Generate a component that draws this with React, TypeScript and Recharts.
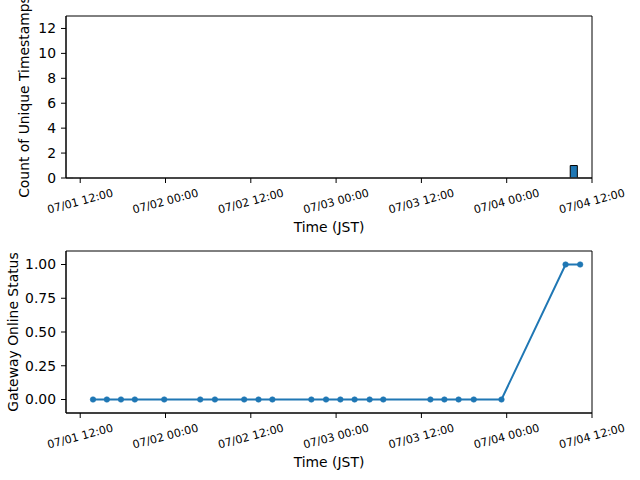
import React from 'react';
import { ComposedChart, LineChart, Bar, Line, XAxis, YAxis, ReferenceLine, ReferenceArea, Label } from 'recharts';

// ---------- data ----------
const tickLabels = ['07/01 12:00', '07/02 00:00', '07/02 12:00', '07/03 00:00', '07/03 12:00', '07/04 00:00', '07/04 12:00'];
const xRange = ['07/01 10:00', '07/04 12:00'];

const statusTimes = [
  '07/01 13:48', '07/01 15:45', '07/01 17:44', '07/01 19:41', '07/01 23:49',
  '07/02 04:53', '07/02 06:57', '07/02 11:04', '07/02 13:05', '07/02 15:02',
  '07/02 20:31', '07/02 22:35', '07/03 00:36', '07/03 02:36', '07/03 04:43',
  '07/03 06:38', '07/03 13:16', '07/03 15:14', '07/03 17:14', '07/03 19:22',
  '07/03 23:16', '07/04 08:17', '07/04 10:20',
];
const statusValues = [0, 0, 0, 0, 0, 0, 0, 0, 0, 0, 0, 0, 0, 0, 0, 0, 0, 0, 0, 0, 0, 1, 1];

const histBinStarts = ['07/04 09:00'];
const histBinEnds = ['07/04 10:00'];
const histCounts = [1];
const histSpan = ['07/01 11:00', '07/04 10:00'];

const countTicks = [0, 2, 4, 6, 8, 10, 12];
const countDomain = [0, 13];
const statusTicks = [0, 0.25, 0.5, 0.75, 1.0];
const statusDomain = [-0.1, 1.1];

// ---------- helpers ----------
const toHours = (s: string) => {
  const [md, hm] = s.split(' ');
  const [, d] = md.split('/').map(Number);
  const [h, m] = hm.split(':').map(Number);
  return (d - 1) * 24 + h + m / 60;
};
const tickValues = tickLabels.map(toHours);
const xDomain = xRange.map(toHours);
const fmtTick = (v: number) => {
  const i = tickValues.findIndex((t) => Math.abs(t - v) < 1e-6);
  return i >= 0 ? tickLabels[i] : '';
};

const histData = histCounts.map((c, i) => ({
  t: (toHours(histBinStarts[i]) + toHours(histBinEnds[i])) / 2,
  count: c,
}));
const statusData = statusTimes.map((s, i) => ({ t: toHours(s), status: statusValues[i] }));

// ---------- layout ----------
const W = 640;
const H = 240;
const PLOT_LEFT = 66;
const PLOT_RIGHT = 592;
const BLUE = '#1f77b4';
const FONT = 'DejaVu Sans, sans-serif';
const binHours = toHours(histBinEnds[0]) - toHours(histBinStarts[0]);
const barPx = ((PLOT_RIGHT - PLOT_LEFT) * binHours) / (xDomain[1] - xDomain[0]);

const RotTick = (props: any) => {
  const { x, y, payload } = props;
  return (
    <g transform={`translate(${x},${y + 18.5})`}>
      <text transform="rotate(-15)" textAnchor="middle" dominantBaseline="central" fontSize={11.1} fill="#000" fontFamily={FONT}>
        {fmtTick(payload.value)}
      </text>
    </g>
  );
};

const xLabel = (text: string) => (props: any) => {
  const vb = props.viewBox;
  return (
    <text x={vb.x + vb.width / 2} y={vb.y + 48.5} textAnchor="middle" dominantBaseline="central" fontSize={13.9} fill="#000" fontFamily={FONT}>
      {text}
    </text>
  );
};

const yLabel = (text: string, cx: number) => (props: any) => {
  const vb = props.viewBox;
  const cy = vb.y + vb.height / 2;
  return (
    <text x={cx} y={cy} transform={`rotate(-90, ${cx}, ${cy})`} textAnchor="middle" dominantBaseline="central" fontSize={13.9} fill="#000" fontFamily={FONT}>
      {text}
    </text>
  );
};

const axisLine = { stroke: '#000', strokeWidth: 1 };
const yTick = { fontSize: 13.9, fill: '#000', fontFamily: FONT };

export default function App() {
  return (
    <div style={{ position: 'absolute', left: 0, top: 0, width: W, height: 480, background: '#fff' }}>
      <div style={{ position: 'absolute', left: 0, top: 0 }}>
        <ComposedChart width={W} height={H} data={histData} margin={{ top: 16, right: W - PLOT_RIGHT, bottom: 0, left: 0 }}>
          <XAxis
            dataKey="t" type="number" domain={xDomain} ticks={tickValues} allowDataOverflow
            height={62} tickSize={5} tickMargin={0} axisLine={axisLine} tickLine={axisLine} tick={<RotTick />} interval={0}
          >
            <Label content={xLabel('Time (JST)')} />
          </XAxis>
          <YAxis
            type="number" domain={countDomain} ticks={countTicks} allowDataOverflow width={PLOT_LEFT}
            tickSize={5} tickMargin={5} axisLine={axisLine} tickLine={axisLine} tick={yTick} interval={0}
          >
            <Label content={yLabel('Count of Unique Timestamps', 24)} />
          </YAxis>
          <ReferenceArea
            x1={xDomain[0]} x2={xDomain[1]} y1={countDomain[0]} y2={countDomain[1]}
            fill="none" stroke="#000" strokeWidth={1} ifOverflow="visible"
          />
          <ReferenceLine
            segment={[{ x: toHours(histSpan[0]), y: 0 }, { x: toHours(histSpan[1]), y: 0 }]}
            stroke="#9a9a9a" strokeWidth={1}
          />
          <Bar dataKey="count" fill={BLUE} stroke="#000" strokeWidth={1} barSize={barPx} isAnimationActive={false} />
        </ComposedChart>
      </div>
      <div style={{ position: 'absolute', left: 0, top: H }}>
        <LineChart width={W} height={H} data={statusData} margin={{ top: 11, right: W - PLOT_RIGHT, bottom: 0, left: 0 }}>
          <XAxis
            dataKey="t" type="number" domain={xDomain} ticks={tickValues} allowDataOverflow
            height={67} tickSize={5} tickMargin={0} axisLine={axisLine} tickLine={axisLine} tick={<RotTick />} interval={0}
          >
            <Label content={xLabel('Time (JST)')} />
          </XAxis>
          <YAxis
            type="number" domain={statusDomain} ticks={statusTicks} allowDataOverflow width={PLOT_LEFT}
            tickSize={5} tickMargin={5} axisLine={axisLine} tickLine={axisLine} tick={yTick} interval={0}
            tickFormatter={(v: number) => v.toFixed(2)}
          >
            <Label content={yLabel('Gateway Online Status', 13)} />
          </YAxis>
          <ReferenceArea
            x1={xDomain[0]} x2={xDomain[1]} y1={statusDomain[0]} y2={statusDomain[1]}
            fill="none" stroke="#000" strokeWidth={1} ifOverflow="visible"
          />
          <Line
            type="linear" dataKey="status" stroke={BLUE} strokeWidth={2}
            dot={{ r: 2.8, fill: BLUE, stroke: BLUE, strokeWidth: 0.5 }}
            isAnimationActive={false}
          />
        </LineChart>
      </div>
    </div>
  );
}
